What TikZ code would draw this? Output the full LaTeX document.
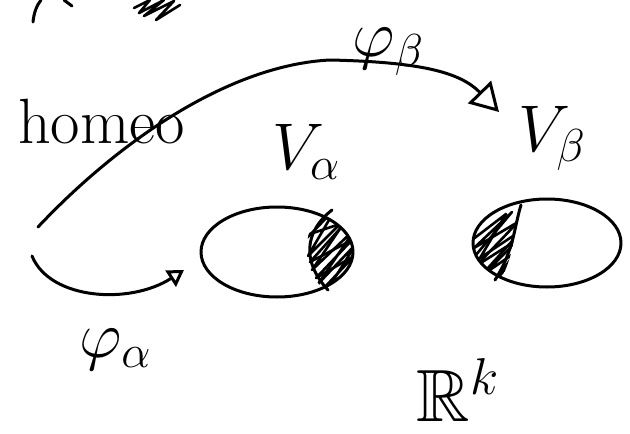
\RequirePackage{fix-cm}
\documentclass[tikz,border=0pt]{standalone}
\usepackage{amssymb}
\usetikzlibrary{arrows.meta,shapes.geometric}
\tikzset{
  pen/.style={line width=3pt, line cap=round, line join=round},
  handlabel/.style={inner sep=0pt, font=\fontsize{66}{68}\selectfont},
  chart/.style={pen, draw, ellipse, minimum width=152pt, minimum height=90pt, inner sep=0pt},
  scribble/.style={line width=2.6pt, line cap=round, line join=round},
  bigtip/.style={-{Triangle[open,length=28pt,width=32pt,line width=3pt]}},
  smalltip/.style={-{Triangle[open,length=16pt,width=19pt,line width=3pt]}}
}
\begin{document}
\begin{tikzpicture}[x=1pt,y=-1pt]
  \useasboundingbox (0,0) rectangle (630,434);

  % the two chart domains
  \node[chart] (Va) at (277,252) {};
  \node[chart, minimum width=148pt, minimum height=88pt] (Vb) at (547,243) {};

  % shaded overlap on the right cap of V_alpha
  \begin{scope}
    \clip (Va.center) ellipse [x radius=76, y radius=44];
    \clip (332,200) .. controls (300,228) and (298,265) .. (328,295) -- (360,295) -- (360,200) -- cycle;
    \draw[scribble] (300,245) -- (336,208) -- (308,256) -- (350,214) -- (312,270) -- (356,228)
      -- (318,284) -- (356,244) -- (326,292) -- (358,262) -- (334,294);
    \draw[scribble] (304,236) -- (346,222) -- (310,262) -- (352,240) -- (316,278) -- (354,256) -- (324,288);
  \end{scope}
  \draw[pen] (332,210) .. controls (304,232) and (302,262) .. (328,290);

  % shaded overlap on the left cap of V_beta
  \begin{scope}
    \clip (Vb.center) ellipse [x radius=74, y radius=44];
    \clip (522,195) .. controls (512,225) and (520,250) .. (494,292) -- (460,292) -- (460,195) -- cycle;
    \draw[scribble] (470,262) -- (512,212) -- (474,248) -- (518,222) -- (476,266) -- (520,238)
      -- (484,274) -- (516,252) -- (494,282) -- (512,262);
    \draw[scribble] (472,240) -- (506,214) -- (480,258) -- (522,230) -- (488,268);
  \end{scope}
  \draw[pen] (521,205) .. controls (514,228) and (514,250) .. (495,280);

  % labels
  \node[handlabel, anchor=base west] (homeo) at (18,143) {\fontsize{64}{64}\selectfont homeo};
  \node[handlabel] (LVa) at (306,152) {$V_\alpha$};
  \node[handlabel] (Lpb) at (388,52) {$\varphi_\beta$};
  \node[handlabel] (LVb) at (552,138) {$V_\beta$};
  \node[handlabel] (Lpa) at (115,350) {$\varphi_\alpha$};
  \node[handlabel] (LR) at (458,390) {\fontsize{74}{74}\selectfont$\mathbb{R}^k$};

  % chart maps
  \coordinate (pbs) at (38,227);
  \coordinate (pbe) at (499,112);
  \draw[pen, bigtip] (pbs) .. controls (120,140) and (230,65) .. (330,60)
    .. controls (420,62) and (460,72) .. (pbe);
  \coordinate (pas) at (32,256);
  \coordinate (pae) at (184,270);
  \draw[pen, smalltip] (pas) .. controls (50,300) and (130,305) .. (pae);

  % leftover strokes along the top edge
  \draw[pen] (33,22) .. controls (34,12) and (37,5) .. (41,0);
  \draw[pen] (64,0) -- (72,6);
  \draw[scribble] (134,8) -- (150,0) -- (139,13) -- (164,0) -- (144,16) -- (174,1) -- (156,20) -- (180,5);
\end{tikzpicture}
\end{document}
